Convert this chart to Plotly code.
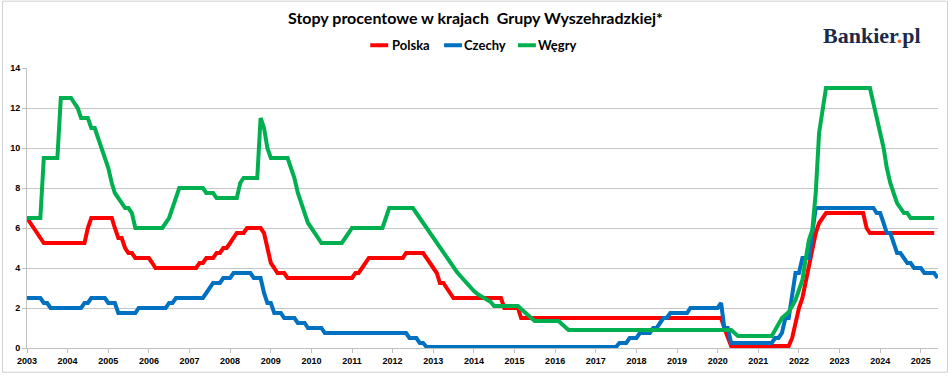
import pandas as pd
import plotly.graph_objects as go

# Monthly policy rates (%), first value = January 2003
polska = (
    [6.5, 6.25, 6.0, 5.75, 5.5, 5.25, 5.25, 5.25, 5.25, 5.25, 5.25, 5.25] +   # 2003
    [5.25, 5.25, 5.25, 5.25, 5.25, 5.25, 6.0, 6.5, 6.5, 6.5, 6.5, 6.5] +      # 2004
    [6.5, 6.5, 6.0, 5.5, 5.5, 5.0, 4.75, 4.75, 4.5, 4.5, 4.5, 4.5] +          # 2005
    [4.5, 4.25, 4.0, 4.0, 4.0, 4.0, 4.0, 4.0, 4.0, 4.0, 4.0, 4.0] +           # 2006
    [4.0, 4.0, 4.0, 4.25, 4.25, 4.5, 4.5, 4.5, 4.75, 4.75, 5.0, 5.0] +        # 2007
    [5.25, 5.5, 5.75, 5.75, 5.75, 6.0, 6.0, 6.0, 6.0, 6.0, 5.75, 5.0] +       # 2008
    [4.25, 4.0, 3.75, 3.75, 3.75, 3.5, 3.5, 3.5, 3.5, 3.5, 3.5, 3.5] +        # 2009
    [3.5, 3.5, 3.5, 3.5, 3.5, 3.5, 3.5, 3.5, 3.5, 3.5, 3.5, 3.5] +            # 2010
    [3.5, 3.75, 3.75, 4.0, 4.25, 4.5, 4.5, 4.5, 4.5, 4.5, 4.5, 4.5] +         # 2011
    [4.5, 4.5, 4.5, 4.5, 4.75, 4.75, 4.75, 4.75, 4.75, 4.75, 4.5, 4.25] +     # 2012
    [4.0, 3.75, 3.25, 3.25, 3.0, 2.75, 2.5, 2.5, 2.5, 2.5, 2.5, 2.5] +        # 2013
    [2.5, 2.5, 2.5, 2.5, 2.5, 2.5, 2.5, 2.5, 2.5, 2.0, 2.0, 2.0] +            # 2014
    [2.0, 2.0, 1.5, 1.5, 1.5, 1.5, 1.5, 1.5, 1.5, 1.5, 1.5, 1.5] +            # 2015
    [1.5, 1.5, 1.5, 1.5, 1.5, 1.5, 1.5, 1.5, 1.5, 1.5, 1.5, 1.5] +            # 2016
    [1.5, 1.5, 1.5, 1.5, 1.5, 1.5, 1.5, 1.5, 1.5, 1.5, 1.5, 1.5] +            # 2017
    [1.5, 1.5, 1.5, 1.5, 1.5, 1.5, 1.5, 1.5, 1.5, 1.5, 1.5, 1.5] +            # 2018
    [1.5, 1.5, 1.5, 1.5, 1.5, 1.5, 1.5, 1.5, 1.5, 1.5, 1.5, 1.5] +            # 2019
    [1.5, 1.5, 1.0, 0.5, 0.1, 0.1, 0.1, 0.1, 0.1, 0.1, 0.1, 0.1] +            # 2020
    [0.1, 0.1, 0.1, 0.1, 0.1, 0.1, 0.1, 0.1, 0.1, 0.1, 0.5, 1.25] +           # 2021
    [2.0, 2.5, 3.25, 4.0, 5.0, 5.75, 6.25, 6.5, 6.75, 6.75, 6.75, 6.75] +     # 2022
    [6.75, 6.75, 6.75, 6.75, 6.75, 6.75, 6.75, 6.75, 6.0, 5.75, 5.75, 5.75] + # 2023
    [5.75, 5.75, 5.75, 5.75, 5.75, 5.75, 5.75, 5.75, 5.75, 5.75, 5.75, 5.75] +# 2024
    [5.75, 5.75, 5.75, 5.75, 5.75]                                            # 2025
)

czechy = (
    [2.5, 2.5, 2.5, 2.5, 2.5, 2.25, 2.25, 2.0, 2.0, 2.0, 2.0, 2.0] +          # 2003
    [2.0, 2.0, 2.0, 2.0, 2.0, 2.25, 2.25, 2.5, 2.5, 2.5, 2.5, 2.5] +          # 2004
    [2.25, 2.25, 2.25, 1.75, 1.75, 1.75, 1.75, 1.75, 1.75, 2.0, 2.0, 2.0] +   # 2005
    [2.0, 2.0, 2.0, 2.0, 2.0, 2.0, 2.25, 2.25, 2.5, 2.5, 2.5, 2.5] +          # 2006
    [2.5, 2.5, 2.5, 2.5, 2.5, 2.75, 3.0, 3.25, 3.25, 3.25, 3.5, 3.5] +        # 2007
    [3.5, 3.75, 3.75, 3.75, 3.75, 3.75, 3.75, 3.5, 3.5, 3.5, 2.75, 2.25] +    # 2008
    [2.25, 1.75, 1.75, 1.75, 1.5, 1.5, 1.5, 1.5, 1.25, 1.25, 1.25, 1.0] +     # 2009
    [1.0, 1.0, 1.0, 1.0, 0.75, 0.75, 0.75, 0.75, 0.75, 0.75, 0.75, 0.75] +    # 2010
    [0.75, 0.75, 0.75, 0.75, 0.75, 0.75, 0.75, 0.75, 0.75, 0.75, 0.75, 0.75] +# 2011
    [0.75, 0.75, 0.75, 0.75, 0.75, 0.5, 0.5, 0.5, 0.25, 0.25, 0.05, 0.05] +   # 2012
    [0.05, 0.05, 0.05, 0.05, 0.05, 0.05, 0.05, 0.05, 0.05, 0.05, 0.05, 0.05] +# 2013
    [0.05, 0.05, 0.05, 0.05, 0.05, 0.05, 0.05, 0.05, 0.05, 0.05, 0.05, 0.05] +# 2014
    [0.05, 0.05, 0.05, 0.05, 0.05, 0.05, 0.05, 0.05, 0.05, 0.05, 0.05, 0.05] +# 2015
    [0.05, 0.05, 0.05, 0.05, 0.05, 0.05, 0.05, 0.05, 0.05, 0.05, 0.05, 0.05] +# 2016
    [0.05, 0.05, 0.05, 0.05, 0.05, 0.05, 0.05, 0.25, 0.25, 0.25, 0.5, 0.5] +  # 2017
    [0.5, 0.75, 0.75, 0.75, 0.75, 1.0, 1.0, 1.25, 1.5, 1.5, 1.75, 1.75] +     # 2018
    [1.75, 1.75, 1.75, 1.75, 2.0, 2.0, 2.0, 2.0, 2.0, 2.0, 2.0, 2.0] +        # 2019
    [2.0, 2.25, 1.0, 1.0, 0.25, 0.25, 0.25, 0.25, 0.25, 0.25, 0.25, 0.25] +   # 2020
    [0.25, 0.25, 0.25, 0.25, 0.25, 0.5, 0.5, 0.75, 1.5, 1.5, 2.75, 3.75] +    # 2021
    [3.75, 4.5, 4.5, 4.5, 5.75, 7.0, 7.0, 7.0, 7.0, 7.0, 7.0, 7.0] +          # 2022
    [7.0, 7.0, 7.0, 7.0, 7.0, 7.0, 7.0, 7.0, 7.0, 7.0, 7.0, 6.75] +           # 2023
    [6.75, 6.25, 5.75, 5.75, 5.25, 4.75, 4.75, 4.5, 4.25, 4.25, 4.0, 4.0] +   # 2024
    [4.0, 3.75, 3.75, 3.75, 3.75, 3.5]                                        # 2025
)

wegry = (
    [6.5, 6.5, 6.5, 6.5, 6.5, 9.5, 9.5, 9.5, 9.5, 9.5, 12.5, 12.5] +          # 2003
    [12.5, 12.5, 12.25, 12.0, 11.5, 11.5, 11.5, 11.0, 11.0, 10.5, 10.0, 9.5] +# 2004
    [9.0, 8.25, 7.75, 7.5, 7.25, 7.0, 7.0, 6.75, 6.0, 6.0, 6.0, 6.0] +        # 2005
    [6.0, 6.0, 6.0, 6.0, 6.0, 6.25, 6.5, 7.0, 7.5, 8.0, 8.0, 8.0] +           # 2006
    [8.0, 8.0, 8.0, 8.0, 8.0, 7.75, 7.75, 7.75, 7.5, 7.5, 7.5, 7.5] +         # 2007
    [7.5, 7.5, 7.5, 8.25, 8.5, 8.5, 8.5, 8.5, 8.5, 11.5, 11.0, 10.0] +        # 2008
    [9.5, 9.5, 9.5, 9.5, 9.5, 9.5, 9.0, 8.5, 7.75, 7.25, 6.75, 6.25] +        # 2009
    [6.0, 5.75, 5.5, 5.25, 5.25, 5.25, 5.25, 5.25, 5.25, 5.25, 5.5, 5.75] +   # 2010
    [6.0, 6.0, 6.0, 6.0, 6.0, 6.0, 6.0, 6.0, 6.0, 6.0, 6.5, 7.0] +            # 2011
    [7.0, 7.0, 7.0, 7.0, 7.0, 7.0, 7.0, 6.75, 6.5, 6.25, 6.0, 5.75] +         # 2012
    [5.5, 5.25, 5.0, 4.75, 4.5, 4.25, 4.0, 3.8, 3.6, 3.4, 3.2, 3.0] +         # 2013
    [2.85, 2.7, 2.6, 2.5, 2.4, 2.3, 2.1, 2.1, 2.1, 2.1, 2.1, 2.1] +           # 2014
    [2.1, 2.1, 1.95, 1.8, 1.65, 1.5, 1.35, 1.35, 1.35, 1.35, 1.35, 1.35] +    # 2015
    [1.35, 1.35, 1.2, 1.05, 0.9, 0.9, 0.9, 0.9, 0.9, 0.9, 0.9, 0.9] +         # 2016
    [0.9, 0.9, 0.9, 0.9, 0.9, 0.9, 0.9, 0.9, 0.9, 0.9, 0.9, 0.9] +            # 2017
    [0.9, 0.9, 0.9, 0.9, 0.9, 0.9, 0.9, 0.9, 0.9, 0.9, 0.9, 0.9] +            # 2018
    [0.9, 0.9, 0.9, 0.9, 0.9, 0.9, 0.9, 0.9, 0.9, 0.9, 0.9, 0.9] +            # 2019
    [0.9, 0.9, 0.9, 0.9, 0.9, 0.75, 0.6, 0.6, 0.6, 0.6, 0.6, 0.6] +           # 2020
    [0.6, 0.6, 0.6, 0.6, 0.6, 0.9, 1.2, 1.5, 1.65, 1.8, 2.1, 2.4] +           # 2021
    [2.9, 3.4, 4.4, 5.4, 5.9, 7.75, 10.75, 11.75, 13.0, 13.0, 13.0, 13.0] +   # 2022
    [13.0, 13.0, 13.0, 13.0, 13.0, 13.0, 13.0, 13.0, 13.0, 13.0, 12.25, 11.5] + # 2023
    [10.75, 10.0, 9.0, 8.25, 7.75, 7.25, 7.0, 6.75, 6.75, 6.5, 6.5, 6.5] +    # 2024
    [6.5, 6.5, 6.5, 6.5, 6.5]                                                 # 2025
)

year_ticks = list(range(2003, 2026))
y_ticks = [0, 2, 4, 6, 8, 10, 12, 14]

title_text = "Stopy procentowe w krajach  Grupy Wyszehradzkiej*"
series = [("Polska", polska, "#FF0000"),
          ("Czechy", czechy, "#0070C0"),
          ("Węgry", wegry, "#00B050")]

W, H = 948, 376
ML, MR, MT, MB = 25, 10, 68, 25
PW, PH = W - ML - MR, H - MT - MB


def px(xp):
    return (xp - ML) / PW


def py(yp):
    return (H - MB - yp) / PH


fig = go.Figure()
for name, vals, col in series:
    dates = pd.date_range("2003-01-01", periods=len(vals), freq="MS")
    fig.add_trace(go.Scatter(x=dates, y=vals, mode="lines", name=name,
                             line=dict(color=col, width=4), showlegend=False))

tick_font = dict(family="Liberation Sans", size=9, color="#000000")
fig.update_xaxes(
    type="date", range=["2003-01-01", "2025-06-04"],
    tickvals=[f"{y}-01-01" for y in year_ticks], ticktext=[f"<b>{y}</b>" for y in year_ticks],
    showgrid=False, showline=True, linecolor="#BFBFBF", linewidth=1,
    ticks="outside", ticklen=4, tickcolor="#BFBFBF", tickfont=tick_font, zeroline=False,
)
fig.update_yaxes(
    range=[0, 14], tickvals=y_ticks, ticktext=[f"<b>{v}</b>" for v in y_ticks],
    showgrid=True, gridcolor="#C6C6C6", gridwidth=1,
    showline=True, linecolor="#BFBFBF", linewidth=1,
    ticks="outside", ticklen=4, tickcolor="#BFBFBF", tickfont=tick_font, zeroline=False,
)

annotations = [
    dict(text=f"<b>{title_text}</b>", x=px(474), y=py(17), xref="paper", yref="paper",
         xanchor="center", yanchor="middle", showarrow=False,
         font=dict(family="Lato", size=16, color="#000000")),
    dict(text="<b>Bankier<span style='color:#F26522'>.</span>pl</b>", x=px(872), y=py(35),
         xref="paper", yref="paper", xanchor="center", yanchor="middle", showarrow=False,
         font=dict(family="Liberation Serif", size=22, color="#1B2A4A")),
]
shapes = []
legend_pos = [(369, 389), (443, 461), (517, 535)]
for (name, _, col), (lx, tx) in zip(series, legend_pos):
    shapes.append(dict(type="line", xref="paper", yref="paper",
                       x0=px(lx), x1=px(lx + 18), y0=py(45), y1=py(45),
                       line=dict(color=col, width=4)))
    annotations.append(dict(text=f"<b>{name}</b>", x=px(tx), y=py(45), xref="paper", yref="paper",
                            xanchor="left", yanchor="middle", showarrow=False,
                            font=dict(family="Lato", size=13, color="#000000")))
shapes.append(dict(type="rect", xref="paper", yref="paper",
                   x0=px(0.5), x1=px(W - 0.5), y0=py(H - 0.5), y1=py(0.5),
                   line=dict(color="#D0D0D0", width=1), layer="below"))

fig.update_layout(
    width=W, height=H, margin=dict(l=ML, r=MR, t=MT, b=MB),
    paper_bgcolor="#FFFFFF", plot_bgcolor="#FFFFFF",
    annotations=annotations, shapes=shapes, showlegend=False,
)

fig.write_html("out.html", config={"displayModeBar": False},
               post_script="document.body.style.margin='0';")
